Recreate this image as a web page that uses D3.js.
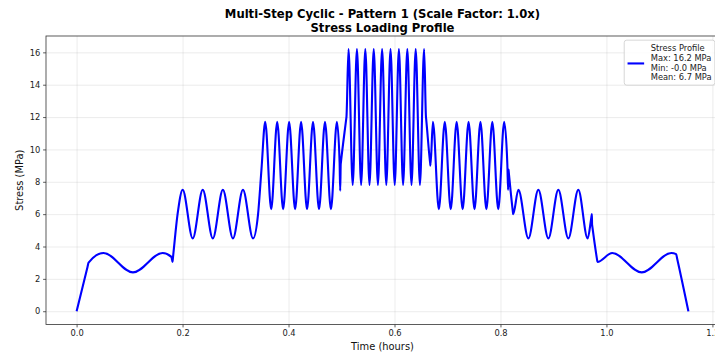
<!DOCTYPE html>
<html><head><meta charset="utf-8">
<script src="https://cdn.jsdelivr.net/npm/d3@7"></script>
<style>
html,body{margin:0;padding:0;background:#fff;overflow:hidden}
svg{display:block;font-family:"DejaVu Sans",sans-serif}
</style></head><body>
<svg id="chart" width="715" height="356"></svg>
<script>
// ---- data (time in hours, stress in MPa) ----
const timeHours = [
  0.0000, 0.0205, 0.0226, 0.0509, 0.1064, 0.1623, 0.1790, 0.1810, 0.1820, 0.1906,
  0.2002, 0.2192, 0.2381, 0.2571, 0.2761, 0.2951, 0.3140, 0.3330, 0.3425, 0.3490,
  0.3560, 0.3673, 0.3786, 0.3898, 0.4011, 0.4124, 0.4237, 0.4349, 0.4462, 0.4575,
  0.4688, 0.4800, 0.4913, 0.4964, 0.4975, 0.4985, 0.4987, 0.5090, 0.5093,
  0.5132, 0.5211, 0.5291, 0.5370, 0.5449, 0.5528, 0.5608, 0.5687, 0.5766, 0.5845,
  0.5925, 0.6004, 0.6083, 0.6162, 0.6242, 0.6321, 0.6400, 0.6480, 0.6559,
  0.6594, 0.6597, 0.6675, 0.6679,
  0.6725, 0.6837, 0.6949, 0.7061, 0.7173, 0.7286, 0.7398, 0.7510, 0.7622, 0.7734,
  0.7846, 0.7958, 0.8070, 0.8130, 0.8144, 0.8152, 0.8155, 0.8236, 0.8240,
  0.8338, 0.8527, 0.8715, 0.8904, 0.9092, 0.9281, 0.9469, 0.9645,
  0.9715, 0.9725, 0.9729, 0.9731, 0.9820, 0.9830,
  1.0109, 1.0666, 1.1225, 1.1315, 1.1335, 1.1547
];
const stressMPa = [
  0.00, 2.72, 3.00, 3.60, 2.40, 3.60, 3.36, 3.05, 3.35, 6.00,
  7.50, 4.50, 7.50, 4.50, 7.50, 4.50, 7.50, 4.50, 6.00, 8.80,
  11.70, 6.30, 11.70, 6.30, 11.70, 6.30, 11.70, 6.30, 11.70, 6.30,
  11.70, 6.30, 11.70, 9.20, 7.45, 9.10, 9.16, 11.92, 12.00,
  16.20, 7.80, 16.20, 7.80, 16.20, 7.80, 16.20, 7.80, 16.20, 7.80,
  16.20, 7.80, 16.20, 7.80, 16.20, 7.80, 16.20, 7.80, 16.20,
  12.00, 11.90, 9.10, 9.00,
  11.70, 6.30, 11.70, 6.30, 11.70, 6.30, 11.70, 6.30, 11.70, 6.30,
  11.70, 6.30, 11.70, 9.05, 7.50, 8.75, 8.65, 6.10, 6.00,
  7.50, 4.50, 7.50, 4.50, 7.50, 4.50, 7.50, 4.50,
  5.80, 6.00, 5.35, 5.30, 3.25, 3.05,
  3.60, 2.40, 3.60, 3.53, 3.24, -0.01
];
const xTickValues = [0.0, 0.2, 0.4, 0.6, 0.8, 1.0, 1.2];
const xTickLabels = ["0.0", "0.2", "0.4", "0.6", "0.8", "1.0", "1.2"];
const yTickValues = [0, 2, 4, 6, 8, 10, 12, 14, 16];
const yTickLabels = ["0", "2", "4", "6", "8", "10", "12", "14", "16"];
const titleLines = ["Multi-Step Cyclic - Pattern 1 (Scale Factor: 1.0x)", "Stress Loading Profile"];
const xAxisLabel = "Time (hours)";
const yAxisLabel = "Stress (MPa)";
const legendLines = ["Stress Profile", "Max: 16.2 MPa", "Min: -0.0 MPa", "Mean: 6.7 MPa"];

// ---- layout ----
const plot = {left: 46, right: 719, top: 36, bottom: 324.5};
const tMin = d3.min(timeHours), tMax = d3.max(timeHours);
const sMin = d3.min(stressMPa), sMax = d3.max(stressMPa);
const tPad = (tMax - tMin) * 0.05, sPad = (sMax - sMin) * 0.05;
const x = d3.scaleLinear().domain([tMin - tPad, tMax + tPad]).range([plot.left, plot.right]);
const y = d3.scaleLinear().domain([sMin - sPad, sMax + sPad]).range([plot.bottom, plot.top]);

const svg = d3.select("#chart");
const tickFont = 8.3, labelFont = 9.9, titleFont = 11.6, legendFont = 8.3;
const lineColor = "#0000ff";

// grid
const gridX = svg.append("g").attr("transform", `translate(0,${plot.bottom})`)
  .call(d3.axisBottom(x).tickValues(xTickValues).tickSize(-(plot.bottom - plot.top)).tickFormat(""));
const gridY = svg.append("g").attr("transform", `translate(${plot.left},0)`)
  .call(d3.axisLeft(y).tickValues(yTickValues).tickSize(-(plot.right - plot.left)).tickFormat(""));
[gridX, gridY].forEach(g => {
  g.select(".domain").remove();
  g.selectAll("line").attr("stroke", "#b0b0b0").attr("stroke-opacity", 0.3).attr("stroke-width", 0.8);
});

// axes
const xAxis = svg.append("g").attr("transform", `translate(0,${plot.bottom})`)
  .call(d3.axisBottom(x).tickValues(xTickValues).tickSize(2.9).tickPadding(2.6)
    .tickFormat((d, i) => xTickLabels[i]));
const yAxis = svg.append("g").attr("transform", `translate(${plot.left},0)`)
  .call(d3.axisLeft(y).tickValues(yTickValues).tickSize(2.9).tickPadding(2.9)
    .tickFormat((d, i) => yTickLabels[i]));
[xAxis, yAxis].forEach(g => {
  g.select(".domain").remove();
  g.selectAll("line").attr("stroke", "#333").attr("stroke-width", 0.8);
  g.selectAll("text").attr("fill", "#222").style("font-size", tickFont + "px")
    .style("font-family", '"DejaVu Sans", sans-serif');
});

// data line
const pts = timeHours.map((t, i) => [t, stressMPa[i]]);
svg.append("path").datum(pts)
  .attr("fill", "none").attr("stroke", lineColor).attr("stroke-width", 2.1)
  .attr("stroke-linejoin", "round").attr("stroke-linecap", "butt")
  .attr("d", d3.line().x(d => x(d[0])).y(d => y(d[1])).curve(d3.curveMonotoneX));

// spines
svg.append("rect").attr("x", plot.left).attr("y", plot.top)
  .attr("width", plot.right - plot.left).attr("height", plot.bottom - plot.top)
  .attr("fill", "none").attr("stroke", "#333").attr("stroke-width", 0.8);

// titles
const cx = (plot.left + plot.right) / 2;
svg.append("text").attr("x", cx).attr("y", 18.3).attr("text-anchor", "middle")
  .style("font-size", titleFont + "px").style("font-weight", "bold").attr("fill", "#000").text(titleLines[0]);
svg.append("text").attr("x", cx).attr("y", 31.5).attr("text-anchor", "middle")
  .style("font-size", titleFont + "px").style("font-weight", "bold").attr("fill", "#000").text(titleLines[1]);

svg.append("text").attr("x", cx).attr("y", 350.2).attr("text-anchor", "middle")
  .style("font-size", labelFont + "px").attr("fill", "#111").text(xAxisLabel);
svg.append("text").attr("transform", `translate(22.5,${(plot.top + plot.bottom) / 2}) rotate(-90)`)
  .attr("text-anchor", "middle").style("font-size", labelFont + "px").attr("fill", "#111").text(yAxisLabel);

// legend
const em = legendFont;
const leg = svg.append("g");
const boxRight = plot.right - 0.5 * em;
const boxTop = plot.top + 0.5 * em;
const rowH = 9.65;
const box = leg.append("rect");
const texts = leg.selectAll("text.leg").data(legendLines).join("text").attr("class", "leg")
  .style("font-size", legendFont + "px").attr("fill", "#222").text(d => d);
let maxW = 0;
texts.each(function () { maxW = Math.max(maxW, this.getComputedTextLength()); });
const textX = boxRight - 0.4 * em - maxW;
texts.attr("x", textX).attr("y", (d, i) => boxTop + 11.2 + i * rowH);
const boxLeft = textX - 0.8 * em - 2 * em - 0.4 * em;
const boxBottom = boxTop + 45;
box.attr("x", boxLeft).attr("y", boxTop).attr("width", boxRight - boxLeft).attr("height", boxBottom - boxTop)
  .attr("rx", 2.5).attr("fill", "#fff").attr("fill-opacity", 0.8)
  .attr("stroke", "#cccccc").attr("stroke-width", 0.8);
const handleY = (boxTop + boxBottom) / 2 + 0.8;
leg.append("line").attr("x1", boxLeft + 0.4 * em).attr("x2", boxLeft + 0.4 * em + 2 * em)
  .attr("y1", handleY).attr("y2", handleY).attr("stroke", lineColor).attr("stroke-width", 2.1);
</script>
</body></html>
